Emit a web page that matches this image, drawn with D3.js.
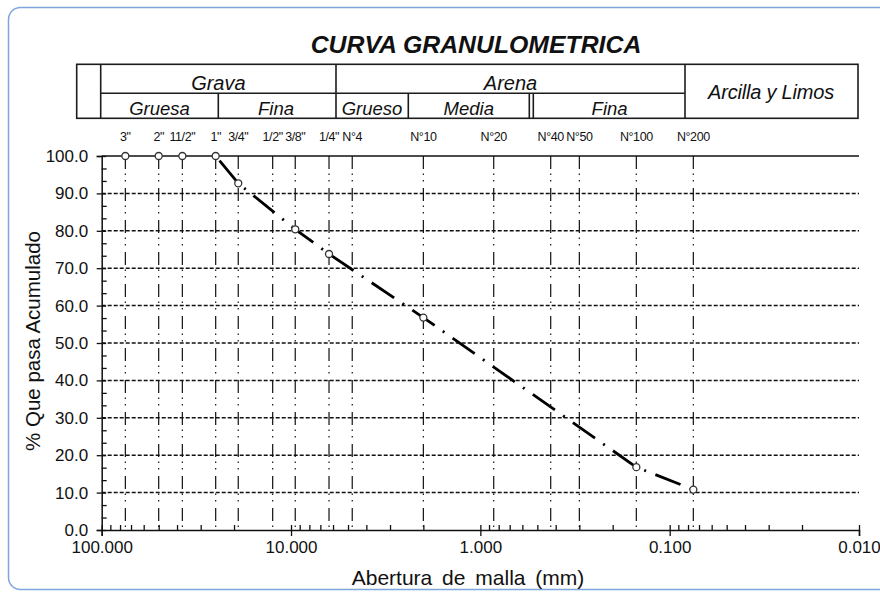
<!DOCTYPE html>
<html>
<head>
<meta charset="utf-8">
<script src="https://cdn.jsdelivr.net/npm/d3@7"></script>
<style>
  body { margin: 0; background: #fff; }
  svg { display: block; }
  text { font-family: "Liberation Sans", Arial, sans-serif; fill: #111; }
</style>
</head>
<body>
<div id="chart"></div>
<script>
// sieve series (ASTM openings in mm)
var sieveNames = ['3"', '2"', '11/2"', '1"', '3/4"', '1/2"', '3/8"', '1/4"', "N°4", "N°10", "N°20", "N°40", "N°50", "N°100", "N°200"];
var sieveSizes = [75, 50, 37.5, 25, 19, 12.5, 9.5, 6.3, 4.75, 2.0, 0.85, 0.425, 0.3, 0.15, 0.075];

// measured curve: opening (mm) and % passing
var passSizes = [75, 50, 37.5, 25, 19, 9.5, 6.3, 2.0, 0.15, 0.075];
var passPct = [100, 100, 100, 100, 92.7, 80.4, 73.8, 56.8, 16.8, 10.8];

// axis ticks
var xTicks = [100, 10, 1, 0.1, 0.01];
var yTicks = [0, 10, 20, 30, 40, 50, 60, 70, 80, 90, 100];

// header table labels
var groupRow = ["Grava", "Arena"];
var subRow = ["Gruesa", "Fina", "Grueso", "Media", "Fina"];

function BuildChart()
{
    var W = 880, H = 592;
    var svg = d3.select("#chart").append("svg").attr("width", W).attr("height", H);

    // outer rounded frame
    svg.append("rect")
        .attr("x", 8.5).attr("y", 7.5)
        .attr("width", 900).attr("height", 582)
        .attr("rx", 12)
        .style("fill", "#fff")
        .style("stroke", "#7fa6dc")
        .style("stroke-width", 1.5);

    var x = d3.scaleLog().domain([100, 0.01]).range([101.7, 859]);
    var y = d3.scaleLinear().domain([0, 100]).range([530, 156]);

    // title
    svg.append("text")
        .attr("x", 476).attr("y", 53)
        .attr("text-anchor", "middle")
        .style("font-size", "24.8px").style("font-weight", "bold").style("font-style", "italic")
        .text("CURVA GRANULOMETRICA");

    // header table
    var tb = svg.append("g").style("stroke", "#1c1c1c").style("stroke-width", 1.6).style("fill", "none");
    var top = 64.3, mid = 93.3, bot = 118.3;
    tb.append("rect").attr("x", 76.7).attr("y", top).attr("width", 858 - 76.7).attr("height", bot - top);
    [100.7, 336, 685].forEach(function(v) {
        tb.append("line").attr("x1", v).attr("x2", v).attr("y1", top).attr("y2", bot);
    });
    tb.append("line").attr("x1", 100.7).attr("x2", 685).attr("y1", mid).attr("y2", mid);
    [218.3, 408.3, 529.3, 533.3].forEach(function(v) {
        tb.append("line").attr("x1", v).attr("x2", v).attr("y1", mid).attr("y2", bot);
    });

    var groupX = [218.4, 510.5];
    groupRow.forEach(function(t, i) {
        svg.append("text").attr("x", groupX[i]).attr("y", 89.5)
            .attr("text-anchor", "middle")
            .style("font-size", "20px").style("font-style", "italic")
            .text(t);
    });
    var subX = [159.5, 276, 372, 468.8, 609.6];
    subRow.forEach(function(t, i) {
        svg.append("text").attr("x", subX[i]).attr("y", 114.5)
            .attr("text-anchor", "middle")
            .style("font-size", "18.5px").style("font-style", "italic")
            .text(t);
    });
    svg.append("text").attr("x", 771).attr("y", 99)
        .attr("text-anchor", "middle")
        .style("font-size", "20px").style("font-style", "italic")
        .style("letter-spacing", "-0.2px")
        .text("Arcilla y Limos");

    // horizontal grid lines
    svg.append("g").selectAll("line")
        .data(yTicks.filter(function(d) { return d > 0 && d < 100; }))
        .enter().append("line")
        .attr("x1", x(100)).attr("x2", x(0.01))
        .attr("y1", function(d) { return y(d); }).attr("y2", function(d) { return y(d); })
        .style("stroke", "#111").style("stroke-width", 1.5)
        .style("stroke-dasharray", "4,2");

    // top border line at 100
    svg.append("line")
        .attr("x1", x(100)).attr("x2", x(0.01))
        .attr("y1", y(100)).attr("y2", y(100))
        .style("stroke", "#111").style("stroke-width", 1.6);

    // sieve lines
    svg.append("g").selectAll("line")
        .data(sieveSizes)
        .enter().append("line")
        .attr("x1", function(d) { return x(d); }).attr("x2", function(d) { return x(d); })
        .attr("y1", y(100)).attr("y2", y(0))
        .style("stroke", "#111").style("stroke-width", 1.2)
        .style("stroke-dasharray", "13,4.5,1.5,5,1.5,6.5");

    // sieve labels
    svg.append("g").selectAll("text")
        .data(sieveSizes)
        .enter().append("text")
        .attr("x", function(d) { return x(d); })
        .attr("y", 140.5)
        .attr("text-anchor", "middle")
        .style("font-size", "12.5px")
        .style("letter-spacing", "-0.4px")
        .text(function(d, i) { return sieveNames[i]; });

    // y axis
    var yAxis = svg.append("g").attr("transform", "translate(" + x(100) + ",0)")
        .call(d3.axisLeft(y).tickValues(yTicks).tickSize(5).tickPadding(8.5).tickFormat(d3.format(".1f")));
    yAxis.selectAll("text").style("font-size", "17px");
    svg.append("g").attr("transform", "translate(" + x(100) + ",0)")
        .call(d3.axisRight(y).tickValues(yTicks).tickSize(4.5).tickFormat(""))
        .select(".domain").remove();
    var yMinor = d3.range(0, 100, 10).reduce(function(a, v) { return a.concat([v + 10 / 3, v + 20 / 3]); }, []);
    svg.append("g").attr("transform", "translate(" + x(100) + ",0)")
        .call(d3.axisRight(y).tickValues(yMinor).tickSize(5).tickFormat(""))
        .select(".domain").remove();

    // x axis
    var xAxis = svg.append("g").attr("transform", "translate(0," + y(0) + ")")
        .call(d3.axisBottom(x).tickValues(xTicks).tickSize(6).tickPadding(5).tickFormat(d3.format(".3f")));
    xAxis.selectAll("text").style("font-size", "17px");
    svg.append("g").attr("transform", "translate(0," + y(0) + ")")
        .call(d3.axisTop(x).tickValues(x.ticks().filter(function(d) {
            var m = Math.round(d / Math.pow(10, Math.floor(Math.log10(d) + 1e-9)));
            return m !== 1;
        })).tickSize(5).tickFormat(""))
        .select(".domain").remove();
    svg.append("g").attr("transform", "translate(0," + y(0) + ")")
        .call(d3.axisTop(x).tickValues(xTicks).tickSize(5).tickFormat(""))
        .select(".domain").remove();

    svg.selectAll(".domain").style("stroke", "#111").style("stroke-width", 1.5);
    svg.selectAll(".tick line").style("stroke", "#111").style("stroke-width", 1.3);

    // axis titles
    svg.append("text")
        .attr("transform", "translate(40,341) rotate(-90)")
        .attr("text-anchor", "middle")
        .style("font-size", "20.5px")
        .text("% Que pasa Acumulado");
    svg.append("text")
        .attr("x", 468).attr("y", 585)
        .attr("text-anchor", "middle")
        .style("font-size", "21px")
        .style("word-spacing", "4px")
        .text("Abertura de malla (mm)");

    // curve (flat 100% run sits on the top border, so the dashed line starts at the last 100% point)
    var pts = passSizes.map(function(s, i) { return [s, passPct[i]]; });
    var start = passPct.lastIndexOf(100);
    var line = d3.line()
        .x(function(d) { return x(d[0]); })
        .y(function(d) { return y(d[1]); });
    svg.append("path")
        .datum(pts.slice(start))
        .attr("d", line)
        .style("fill", "none")
        .style("stroke", "#000")
        .style("stroke-width", 2.8)
        .style("stroke-dasharray", "27,10,2,10")
        .style("stroke-dashoffset", 43);

    svg.append("g").selectAll("circle")
        .data(pts)
        .enter().append("circle")
        .attr("cx", function(d) { return x(d[0]); })
        .attr("cy", function(d) { return y(d[1]); })
        .attr("r", 3.5)
        .style("fill", "#fff")
        .style("stroke", "#333")
        .style("stroke-width", 1.3);
}
BuildChart();
</script>
</body>
</html>
